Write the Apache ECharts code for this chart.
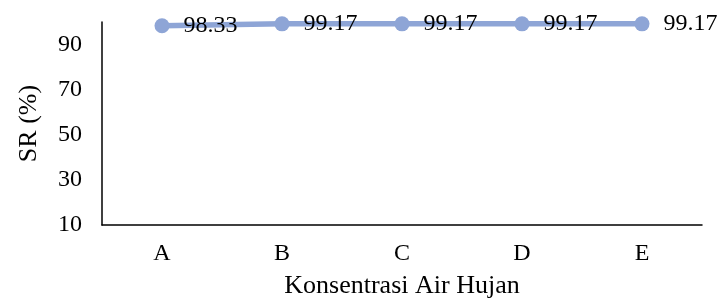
<!DOCTYPE html>
<html>
<head>
<meta charset="utf-8">
<script src="https://cdn.jsdelivr.net/npm/echarts@6/dist/echarts.min.js"></script>
<style>
html,body{margin:0;padding:0;background:#fff;}
#c{width:723px;height:303px;}
</style>
</head>
<body>
<div id="c"></div>
<script>
var categories = ['A', 'B', 'C', 'D', 'E'];
var srValues = [98.33, 99.17, 99.17, 99.17, 99.17];
var yTicks = [10, 30, 50, 70, 90];

var chart = echarts.init(document.getElementById('c'), null, {renderer: 'canvas'});
var font = '"Liberation Serif", "Times New Roman", serif';
chart.setOption({
  animation: false,
  backgroundColor: '#ffffff',
  grid: {left: 102, right: 21, top: 22, bottom: 78, containLabel: false, outerBoundsMode: 'none'},
  xAxis: {
    type: 'category',
    data: categories,
    boundaryGap: true,
    name: 'Konsentrasi Air Hujan',
    nameLocation: 'middle',
    nameGap: 48,
    nameTextStyle: {fontFamily: font, fontSize: 26, color: '#000'},
    axisLine: {lineStyle: {color: '#000', width: 1.5}},
    axisTick: {show: false},
    axisLabel: {fontFamily: font, fontSize: 24, color: '#000', margin: 17},
    splitLine: {show: false}
  },
  yAxis: {
    type: 'value',
    min: 10,
    max: 100,
    interval: 20,
    name: 'SR (%)',
    nameLocation: 'middle',
    nameGap: 60,
    nameTextStyle: {fontFamily: font, fontSize: 26, color: '#000'},
    axisLine: {show: true, lineStyle: {color: '#000', width: 1.5}},
    axisTick: {show: false},
    axisLabel: {
      fontFamily: font, fontSize: 24, color: '#000', margin: 20,
      showMaxLabel: false,
      formatter: function (v) { return yTicks.indexOf(v) >= 0 ? String(v) : ''; }
    },
    splitLine: {show: false}
  },
  series: [{
    type: 'line',
    data: srValues,
    symbol: 'circle',
    symbolSize: 15,
    itemStyle: {color: '#8EA5D6'},
    lineStyle: {color: '#8EA5D6', width: 5.5},
    label: {
      show: true,
      position: 'right',
      distance: 14,
      fontFamily: font,
      fontSize: 24,
      color: '#000',
      formatter: function (p) { return p.value.toFixed(2); }
    }
  }]
});
</script>
</body>
</html>
